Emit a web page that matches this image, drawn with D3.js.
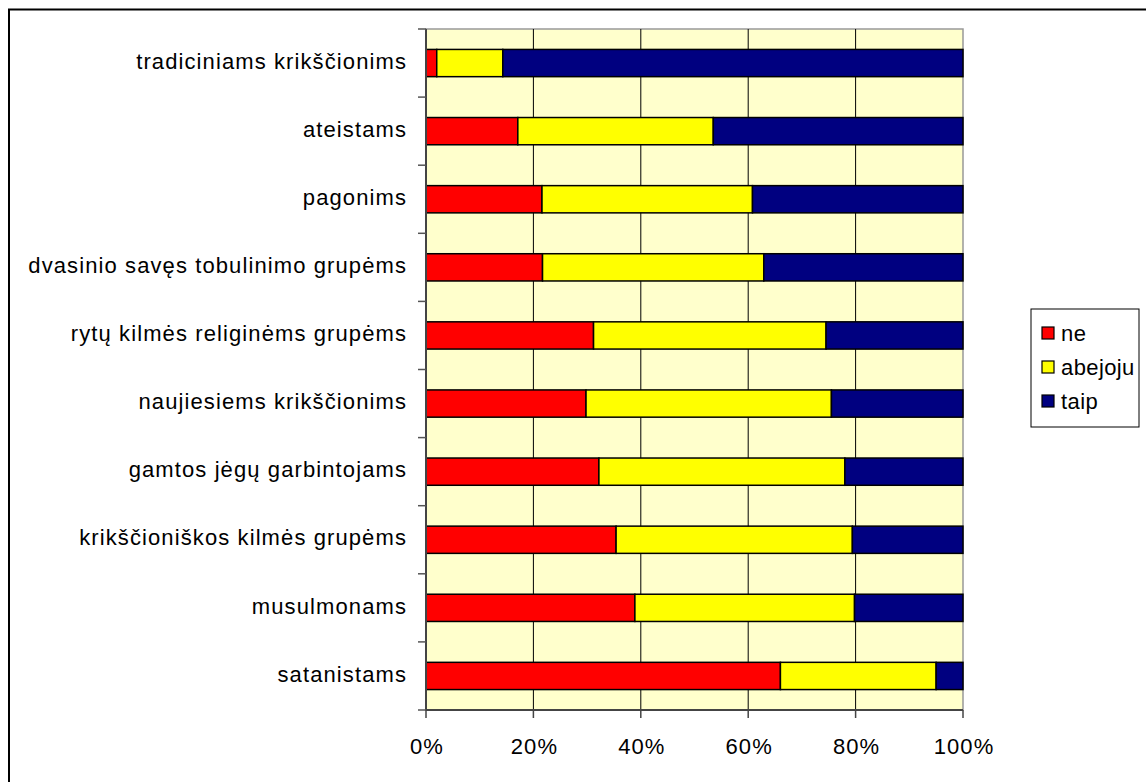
<!DOCTYPE html>
<html>
<head>
<meta charset="utf-8">
<script src="https://cdn.jsdelivr.net/npm/d3@7"></script>
<style>
  body { margin: 0; background: #fff; }
  svg text { font-family: "Liberation Sans", Arial, sans-serif; fill: #000; letter-spacing: 1.1px; }
</style>
</head>
<body>
<div id="chart"></div>
<script>
// categories top to bottom
var categories = [
  "tradiciniams krikščionims",
  "ateistams",
  "pagonims",
  "dvasinio savęs tobulinimo grupėms",
  "rytų kilmės religinėms grupėms",
  "naujiesiems krikščionims",
  "gamtos jėgų garbintojams",
  "krikščioniškos kilmės grupėms",
  "musulmonams",
  "satanistams"
];
var series = ["ne", "abejoju", "taip"];
var ne      = [2.0, 17.1, 21.6, 21.7, 31.2, 29.8, 32.2, 35.4, 38.9, 66.0];
var abejoju = [12.3, 36.4, 39.2, 41.2, 43.3, 45.7, 45.8, 44.0, 40.9, 29.0];
var taip    = [85.7, 46.5, 39.2, 37.1, 25.5, 24.5, 22.0, 20.6, 20.2, 5.0];
var xTicks = [0, 20, 40, 60, 80, 100];
var colors = { ne: "#FF0000", abejoju: "#FFFF00", taip: "#000080" };

var W = 1146, H = 782;
var margin = {top: 29, right: 183, bottom: 72, left: 426},
    width = 963 - margin.left,
    height = 710 - margin.top;

var svg = d3.select("#chart").append("svg")
    .attr("width", W).attr("height", H);

// outer chart frame (only left and top are visible)
svg.append("rect")
  .attr("x", 9).attr("y", 9.5)
  .attr("width", W + 20).attr("height", H + 20)
  .attr("fill", "none").attr("stroke", "#000").attr("stroke-width", 2);

var g = svg.append("g")
  .attr("transform", "translate(" + margin.left + "," + margin.top + ")");

var x = d3.scaleLinear().domain([0, 100]).range([0, width]);
var y = d3.scaleBand().domain(categories).range([0, height]).paddingInner(0.6).paddingOuter(0.3);
var yb = d3.scaleBand().domain(categories).range([0, height]);

// plot background
g.append("rect")
  .attr("width", width).attr("height", height)
  .attr("fill", "#FFFFCC")
  .attr("stroke", "#999").attr("stroke-width", 1.5);

// gridlines
g.selectAll(".grid").data(xTicks.slice(1, -1)).enter()
  .append("line")
    .attr("x1", function(d) { return x(d); })
    .attr("x2", function(d) { return x(d); })
    .attr("y1", 0).attr("y2", height)
    .attr("stroke", "#000").attr("stroke-width", 1);

// stack the data
var rows = categories.map(function(c, i) {
  return {cat: c, ne: ne[i], abejoju: abejoju[i], taip: taip[i]};
});
var stacked = d3.stack().keys(series)(rows);

g.selectAll(".layer").data(stacked).enter()
  .append("g")
    .attr("fill", function(d) { return colors[d.key]; })
  .selectAll("rect").data(function(d) { return d; }).enter()
  .append("rect")
    .attr("x", function(d) { return x(d[0]); })
    .attr("width", function(d) { return x(d[1]) - x(d[0]); })
    .attr("y", function(d) { return y(d.data.cat); })
    .attr("height", y.bandwidth())
    .attr("stroke", "#000").attr("stroke-width", 1.5);

// y axis
var yAxis = g.append("g");
yAxis.append("line")
  .attr("x1", 0).attr("x2", 0).attr("y1", 0).attr("y2", height)
  .attr("stroke", "#444").attr("stroke-width", 2);
var ySteps = d3.range(categories.length + 1);
yAxis.selectAll(".yt").data(ySteps).enter()
  .append("line")
    .attr("x1", -8).attr("x2", 0)
    .attr("y1", function(d) { return d * yb.step(); })
    .attr("y2", function(d) { return d * yb.step(); })
    .attr("stroke", "#555").attr("stroke-width", 1.5);
yAxis.selectAll(".yl").data(categories).enter()
  .append("text")
    .attr("x", -19)
    .attr("y", function(d) { return yb(d) + yb.bandwidth() / 2 - 2; })
    .attr("dy", "0.35em")
    .attr("text-anchor", "end")
    .style("font-size", "22px")
    .text(function(d) { return d; });

// x axis
var xAxis = g.append("g").attr("transform", "translate(0," + height + ")");
xAxis.append("line")
  .attr("x1", 0).attr("x2", width)
  .attr("stroke", "#444").attr("stroke-width", 2);
xAxis.selectAll(".xt").data(xTicks).enter()
  .append("line")
    .attr("x1", function(d) { return x(d); })
    .attr("x2", function(d) { return x(d); })
    .attr("y1", 0).attr("y2", 8)
    .attr("stroke", "#444").attr("stroke-width", 1.5);
xAxis.selectAll(".xl").data(xTicks).enter()
  .append("text")
    .attr("x", function(d) { return x(d) + 1; })
    .attr("y", 44)
    .attr("text-anchor", "middle")
    .style("font-size", "22px")
    .text(function(d) { return d + "%"; });

// legend
var legend = svg.append("g").attr("transform", "translate(1031,309)");
legend.append("rect")
  .attr("width", 108).attr("height", 118)
  .attr("fill", "#fff").attr("stroke", "#000").attr("stroke-width", 1);
var li = legend.selectAll(".li").data(series).enter()
  .append("g")
    .attr("transform", function(d, i) { return "translate(10," + (24 + i * 34) + ")"; });
li.append("rect")
  .attr("x", 1).attr("y", -6).attr("width", 12).attr("height", 12)
  .attr("fill", function(d) { return colors[d]; })
  .attr("stroke", "#000").attr("stroke-width", 1.2);
li.append("text")
  .attr("x", 20).attr("y", 0).attr("dy", "0.35em")
  .style("font-size", "22px")
  .style("letter-spacing", "0.4px")
  .text(function(d) { return d; });
</script>
</body>
</html>
